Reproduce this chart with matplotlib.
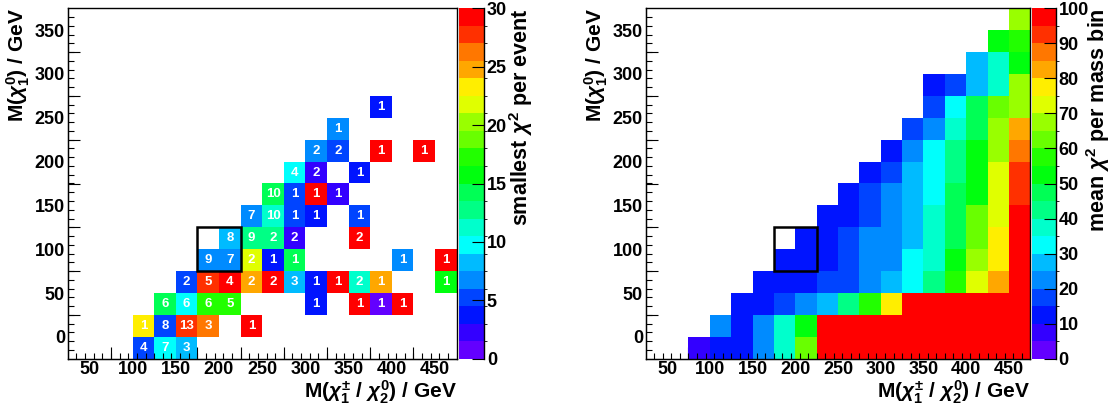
import colorsys
import numpy as np
import matplotlib
matplotlib.use("Agg")
import matplotlib.pyplot as plt
from matplotlib.colors import ListedColormap, BoundaryNorm
from matplotlib.patches import Rectangle

# binning of the mass plane (GeV)
mchi_edges = np.arange(25, 500, 25)     # 25 .. 475
mlsp_edges = np.arange(-25, 400, 25)    # -25 .. 375

# region marked with the black box
box_mchi = (175, 225)
box_mlsp = (75, 125)

# left: smallest chi2 per event, cells given by lower bin edges + event count
left_mchi = [100, 125, 150, 100, 125, 150, 175, 225, 125, 150, 175, 200, 300, 350, 375, 400,
             150, 175, 200, 225, 250, 275, 300, 325, 350, 375, 450,
             175, 200, 225, 250, 275, 400, 450, 200, 225, 250, 275, 350,
             225, 250, 275, 300, 350, 250, 275, 300, 325, 275, 300, 350,
             300, 325, 375, 425, 325, 375]
left_mlsp = [-25, -25, -25, 0, 0, 0, 0, 0, 25, 25, 25, 25, 25, 25, 25, 25,
             50, 50, 50, 50, 50, 50, 50, 50, 50, 50, 50,
             75, 75, 75, 75, 75, 75, 75, 100, 100, 100, 100, 100,
             125, 125, 125, 125, 125, 150, 150, 150, 150, 175, 175, 175,
             200, 200, 200, 200, 225, 250]
left_chi2 = [5.2, 9.8, 8.2, 23.2, 5.2, 27.8, 26.2, 29.2, 14.2, 9.8, 17.2, 17.2, 3.8, 29.2, 0.8, 29.2,
             5.2, 27.8, 29.2, 24.8, 29.2, 8.2, 3.8, 29.2, 11.2, 24.8, 15.8,
             6.8, 6.8, 21.8, 3.8, 14.2, 6.8, 29.2, 8.2, 12.8, 12.8, 2.2, 29.2,
             6.8, 11.2, 5.2, 3.8, 5.2, 14.2, 5.2, 29.2, 2.2, 9.8, 2.2, 3.8,
             6.8, 5.2, 29.2, 29.2, 6.8, 3.8]
left_count = [4, 7, 3, 1, 8, 13, 3, 1, 6, 6, 6, 5, 1, 1, 1, 1,
              2, 5, 4, 2, 2, 3, 1, 1, 2, 1, 1,
              9, 7, 2, 1, 1, 1, 1, 8, 9, 2, 2, 2,
              7, 10, 1, 1, 1, 10, 1, 1, 1, 4, 2, 1,
              2, 2, 1, 1, 1, 1]

# right: mean chi2 per mass bin, one list per row starting at row_start
right_row_mlsp = [-25, 0, 25, 50, 75, 100, 125, 150, 175, 200, 225, 250, 275, 300, 325, 350]
right_row_start = [75, 100, 125, 150, 175, 175, 225, 250, 275, 300, 325, 350, 350, 400, 425, 450]
right_row_vals = [
    [7.5, 12.5, 12.5, 22.5, 37.5, 62.5, 98, 98, 98, 98, 98, 98, 98, 98, 98, 98],
    [22.5, 12.5, 22.5, 37.5, 52.5, 98, 98, 98, 98, 98, 98, 98, 98, 98, 98],
    [12.5, 12.5, 17.5, 22.5, 27.5, 42.5, 57.5, 77.5, 98, 98, 98, 98, 98, 98],
    [12.5, 12.5, 12.5, 17.5, 17.5, 22.5, 27.5, 32.5, 42.5, 57.5, 72.5, 82.5, 98],
    [12.5, 12.5, 12.5, 17.5, 22.5, 22.5, 32.5, 37.5, 52.5, 67.5, 77.5, 98],
    [np.nan, 12.5, 12.5, 17.5, 22.5, 22.5, 27.5, 37.5, 47.5, 62.5, 77.5, 98],
    [12.5, 12.5, 17.5, 22.5, 27.5, 37.5, 47.5, 62.5, 72.5, 98],
    [12.5, 17.5, 22.5, 27.5, 32.5, 47.5, 52.5, 72.5, 92.5],
    [12.5, 17.5, 27.5, 32.5, 42.5, 52.5, 72.5, 92.5],
    [12.5, 22.5, 32.5, 42.5, 52.5, 67.5, 87.5],
    [17.5, 22.5, 37.5, 47.5, 67.5, 82.5],
    [17.5, 32.5, 47.5, 62.5, 67.5],
    [12.5, 17.5, 27.5, 37.5, 67.5],
    [27.5, 37.5, 52.5],
    [52.5, 57.5],
    [67.5],
]

plt.rcParams['font.family'] = 'Liberation Sans'
plt.rcParams['font.weight'] = 'bold'
plt.rcParams['axes.labelweight'] = 'bold'
plt.rcParams['mathtext.fontset'] = 'custom'
plt.rcParams['mathtext.rm'] = 'Liberation Sans:bold'
plt.rcParams['mathtext.it'] = 'Liberation Sans:italic:bold'
plt.rcParams['mathtext.bf'] = 'Liberation Sans:bold'

# ROOT "pretty" palette (50 colours) sampled with 20 contours
pretty = []
for i in range(49):
    hue = 280 - (i + 1) * 280 / 50
    pretty.append(colorsys.hls_to_rgb(hue / 360, 0.5, 1.0))
pretty.append((1.0, 0.0, 0.0))
n_cont = 20
bands = [pretty[min(int((j + 0.99) * 50 / n_cont), 49)] for j in range(n_cont)]
cmap = ListedColormap(bands)
cmap.set_over(bands[-1])
cmap.set_bad((1, 1, 1, 0))


def fill_grid(xs, ys, vals):
    grid = np.full((len(mlsp_edges) - 1, len(mchi_edges) - 1), np.nan)
    for x, y, v in zip(xs, ys, vals):
        i = np.searchsorted(mlsp_edges, y, side='right') - 1
        j = np.searchsorted(mchi_edges, x, side='right') - 1
        grid[i, j] = v
    return grid


def bold_ticks(ax):
    for t in ax.get_xticklabels() + ax.get_yticklabels():
        t.set_fontweight('bold')


def style_axes(ax):
    ax.set_xlim(mchi_edges[0], mchi_edges[-1])
    ax.set_ylim(mlsp_edges[0], mlsp_edges[-1])
    ax.set_xticks(np.arange(50, 451, 50))
    ax.set_yticks(np.arange(0, 351, 50))
    ax.set_xticks(np.arange(35, 475, 10), minor=True)
    ax.set_yticks(np.arange(-15, 375, 10), minor=True)
    ax.tick_params(which='major', length=0, labelsize=13)
    ax.tick_params(axis='x', which='major', pad=2)
    ax.tick_params(axis='y', which='major', pad=2)
    ax.tick_params(which='minor', direction='in', length=4.3, width=0.8,
                   top=False, right=False)
    bold_ticks(ax)
    for s in ax.spines.values():
        s.set_linewidth(1.0)
    # long ticks every 50 GeV between the labels
    sx = ax.secondary_xaxis('bottom')
    sx.set_xticks(np.arange(75, 451, 50))
    sx.tick_params(direction='in', length=8.6, width=0.8, labelbottom=False)
    sy = ax.secondary_yaxis('left')
    sy.set_yticks(np.arange(25, 351, 50))
    sy.tick_params(direction='in', length=8.6, width=0.8, labelleft=False)
    ax.set_xlabel(r'M($\chi_{1}^{\pm}$ / $\chi_{2}^{0}$) / GeV', fontsize=15,
                  fontweight='bold', loc='right', labelpad=0)
    ax.set_ylabel(r'M($\chi_{1}^{0}$) / GeV', fontsize=15, fontweight='bold',
                  loc='top', labelpad=2)
    ax.add_patch(Rectangle((box_mchi[0], box_mlsp[0]), box_mchi[1] - box_mchi[0],
                           box_mlsp[1] - box_mlsp[0], fill=False, ec='black',
                           lw=1.8, zorder=5))


def style_cbar(fig, mesh, cax, zmax, step, title, pad):
    cb = fig.colorbar(mesh, cax=cax, extend='neither')
    cb.outline.set_visible(False)
    cb.set_ticks(np.arange(0, zmax + 1, step))
    cax.yaxis.set_ticks_position('right')
    cax.tick_params(direction='in', length=8.6, width=0.8, labelsize=13, pad=2)
    bold_ticks(cax)
    cax.plot([1, 1], [0, 1], transform=cax.transAxes, color='black', lw=1.0,
             clip_on=False)
    cax.set_ylabel(title, fontsize=15.5, fontweight='bold', loc='top', labelpad=pad)


fig = plt.figure(figsize=(11.14, 4.05), dpi=100)
bot = (405 - 358.7) / 405
hgt = 350.4 / 405
ax1 = fig.add_axes([67.7 / 1114, bot, 389 / 1114, hgt])
cax1 = fig.add_axes([458.7 / 1114, bot, 25.3 / 1114, hgt])
ax2 = fig.add_axes([645.7 / 1114, bot, 384.6 / 1114, hgt])
cax2 = fig.add_axes([1031.7 / 1114, bot, 24 / 1114, hgt])

# left panel
zmax_l = 30
norm_l = BoundaryNorm(np.linspace(0, zmax_l, n_cont + 1), n_cont)
grid_l = fill_grid(left_mchi, left_mlsp, left_chi2)
mesh_l = ax1.pcolormesh(mchi_edges, mlsp_edges, np.ma.masked_invalid(grid_l),
                        cmap=cmap, norm=norm_l)
for x, y, n in zip(left_mchi, left_mlsp, left_count):
    ax1.text(x + 12.5, y + 12.5, str(n), ha='center', va='center',
             color='white', fontsize=9.5, fontweight='bold')
style_axes(ax1)
style_cbar(fig, mesh_l, cax1, zmax_l, 5, r'smallest $\chi^{2}$ per event', 0)

# right panel
r_x, r_y, r_v = [], [], []
for y, x0, vals in zip(right_row_mlsp, right_row_start, right_row_vals):
    for k, v in enumerate(vals):
        r_x.append(x0 + 25 * k)
        r_y.append(y)
        r_v.append(v)
zmax_r = 100
norm_r = BoundaryNorm(np.linspace(0, zmax_r, n_cont + 1), n_cont)
grid_r = fill_grid(r_x, r_y, r_v)
mesh_r = ax2.pcolormesh(mchi_edges, mlsp_edges, np.ma.masked_invalid(grid_r),
                        cmap=cmap, norm=norm_r)
style_axes(ax2)
style_cbar(fig, mesh_r, cax2, zmax_r, 10, r'mean $\chi^{2}$ per mass bin', -3.5)

fig.savefig('out.png', dpi=100)
